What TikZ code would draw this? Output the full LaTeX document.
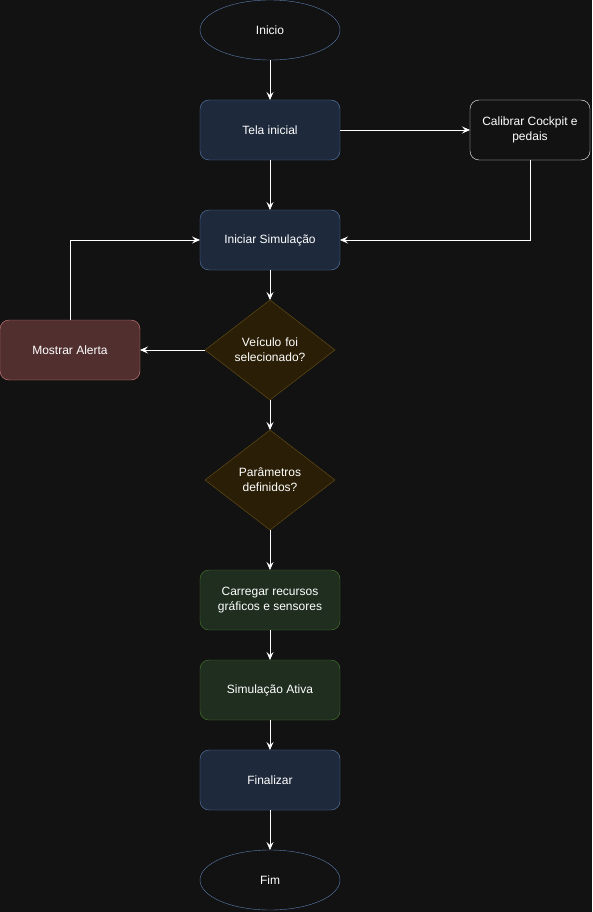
\documentclass[tikz,border=0pt]{standalone}
\usepackage{fontspec}
\setmainfont{Liberation Sans}
\usepackage{tikz}
\usetikzlibrary{shapes.geometric,arrows.meta,positioning}
\definecolor{bgdark}{HTML}{121212}
\definecolor{bluefill}{HTML}{1E293B}
\definecolor{bluedraw}{HTML}{5C7FB3}
\definecolor{greenfill}{HTML}{1F2E1F}
\definecolor{greendraw}{HTML}{4A7A2C}
\definecolor{redfill}{HTML}{522F2F}
\definecolor{reddraw}{HTML}{D47F7F}
\definecolor{amberfill}{HTML}{2A1F06}
\definecolor{amberdraw}{HTML}{6B5215}

\begin{document}
\begin{tikzpicture}[
    font=\fontsize{12}{15}\selectfont, text=white,
    procbox/.style={rectangle, rounded corners=9pt, draw=bluedraw, fill=bluefill,
        minimum width=140pt, minimum height=60pt, align=center, inner sep=2pt,
        outer sep=0pt},
    endpoint/.style={ellipse, draw=bluedraw, fill=bgdark,
        minimum width=140pt, minimum height=60pt, inner sep=0pt, outer sep=0pt},
    decision/.style={diamond, draw=amberdraw, fill=amberfill, aspect=1.3,
        minimum width=130pt, minimum height=100pt, inner sep=0pt, outer sep=0pt,
        align=center, text width=80pt},
    flow/.style={->, draw=white, line width=0.8pt},
    >={Stealth[length=8pt,width=7pt,inset=3pt]}
]
\fill[bgdark] (0,0) rectangle (592pt,-912pt);
\useasboundingbox (0,0) rectangle (592pt,-912pt);

\node[endpoint] (inicio) at (270pt,-30pt) {Inicio};
\node[procbox, below=40pt of inicio] (tela) {Tela inicial};
\node[procbox, right=130pt of tela, minimum width=120pt, draw=white, fill=bgdark] (calib) {Calibrar Cockpit e\\pedais};
\node[procbox, below=50pt of tela] (iniciar) {Iniciar Simulação};
\node[decision, below=30pt of iniciar] (veiculo) {Veículo foi\\selecionado?};
\node[procbox, left=65pt of veiculo, draw=reddraw, fill=redfill] (alerta) {Mostrar Alerta};
\node[decision, below=30pt of veiculo] (params) {Parâmetros\\definidos?};
\node[procbox, below=40pt of params, draw=greendraw, fill=greenfill] (carregar) {Carregar recursos\\gráficos e sensores};
\node[procbox, below=30pt of carregar, draw=greendraw, fill=greenfill] (ativa) {Simulação Ativa};
\node[procbox, below=30pt of ativa] (final) {Finalizar};
\node[endpoint, below=40pt of final] (fim) {Fim};

\draw[flow] (inicio) -- (tela);
\draw[flow] (tela) -- (calib);
\draw[flow] (tela) -- (iniciar);
\draw[flow] (calib.south) |- (iniciar.east);
\draw[flow] (iniciar) -- (veiculo);
\draw[flow] (veiculo) -- (alerta);
\draw[flow] (alerta.north) |- (iniciar.west);
\draw[flow] (veiculo) -- (params);
\draw[flow] (params) -- (carregar);
\draw[flow] (carregar) -- (ativa);
\draw[flow] (ativa) -- (final);
\draw[flow] (final) -- (fim);
\end{tikzpicture}
\end{document}
